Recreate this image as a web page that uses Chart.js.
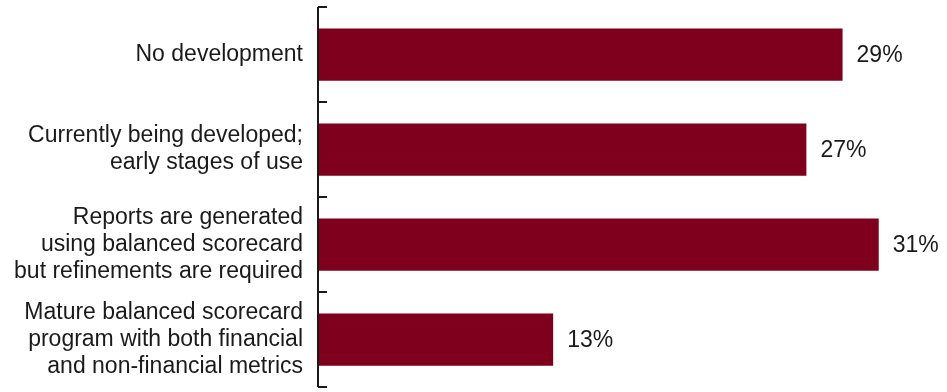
<!DOCTYPE html>
<html>
<head>
<meta charset="utf-8">
<script src="https://cdn.jsdelivr.net/npm/chart.js@4"></script>
<style>
  html, body { margin: 0; padding: 0; background: #fff; }
  #wrap { width: 947px; height: 392px; }
</style>
</head>
<body>
<div id="wrap"><canvas id="ScorecardChart"></canvas></div>
<script>
// Categories (multi-line labels)
var categories = [
    ["No development"],
    ["Currently being developed;", "early stages of use"],
    ["Reports are generated", "using balanced scorecard", "but refinements are required"],
    ["Mature balanced scorecard", "program with both financial", "and non-financial metrics"]
];

// Share of respondents (%)
var shares = [29, 27, 31, 13];

var barColor = "#7f001c";
var textColor = "#1a1a1a";
var fontFamily = "'Liberation Sans', Arial, sans-serif";

// axis line with tick marks pointing into the plot, plus value labels
var extras = {
    id: 'extras',
    afterDatasetsDraw: function (chart) {
        var ctx = chart.ctx;
        var area = chart.chartArea;
        var y = chart.scales.y;
        ctx.save();
        ctx.strokeStyle = "#1a1a1a";
        ctx.lineWidth = 2;
        ctx.beginPath();
        ctx.moveTo(area.left, area.top);
        ctx.lineTo(area.left, area.bottom);
        var step = (y.getPixelForValue(1) - y.getPixelForValue(0));
        for (var i = 0; i <= categories.length; i++) {
            var py = Math.round(y.getPixelForValue(i) - step / 2);
            ctx.moveTo(area.left, py);
            ctx.lineTo(area.left + 9, py);
        }
        ctx.stroke();

        var meta = chart.getDatasetMeta(0);
        ctx.fillStyle = textColor;
        ctx.font = "23px " + fontFamily;
        ctx.textAlign = "left";
        ctx.textBaseline = "middle";
        meta.data.forEach(function (bar, i) {
            ctx.fillText(shares[i] + "%", bar.x + 14, bar.y + 1);
        });
        ctx.restore();
    }
};

var ctx = document.getElementById("ScorecardChart");

var ScorecardChart = new Chart(ctx, {
    type: 'bar',
    data: {
        labels: categories,
        datasets: [
            {
                data: shares,
                backgroundColor: barColor,
                borderWidth: 0,
                categoryPercentage: 1,
                barPercentage: 0.55
            }
        ]
    },
    options: {
        indexAxis: 'y',
        responsive: true,
        maintainAspectRatio: false,
        animation: false,
        layout: { padding: { top: 7, bottom: 5, right: 14, left: 0 } },
        plugins: {
            legend: { display: false },
            tooltip: { enabled: false }
        },
        scales: {
            x: {
                display: false,
                min: 0,
                max: 34
            },
            y: {
                border: { display: false },
                grid: { display: false, tickLength: 0 },
                ticks: {
                    color: textColor,
                    padding: 15,
                    font: { size: 23, family: fontFamily, lineHeight: 1.18 }
                },
                afterFit: function (scale) {
                    scale.width = 318;
                    scale.paddingTop = 0;
                    scale.paddingBottom = 0;
                }
            }
        }
    },
    plugins: [extras]
});
</script>
</body>
</html>
